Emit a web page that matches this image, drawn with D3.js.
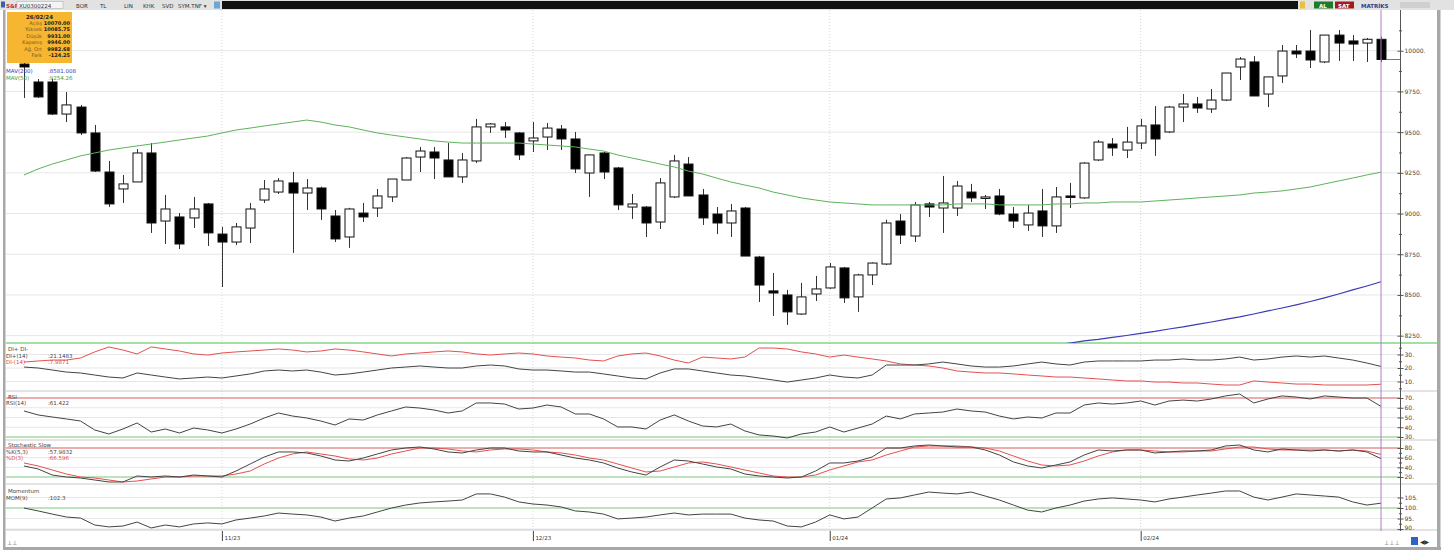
<!DOCTYPE html>
<html>
<head>
<meta charset="utf-8">
<script src="https://cdn.jsdelivr.net/npm/d3@7"></script>
<style>
  body { margin: 0; background: #fff; }
  svg { display: block; font-family: "DejaVu Sans", "Liberation Sans", sans-serif; }
</style>
</head>
<body>
<svg id="chart" width="1454" height="557"></svg>
<script>
// trading days shown on the chart
const dates = [
  "2023-10-12","2023-10-13","2023-10-16","2023-10-17","2023-10-18","2023-10-19","2023-10-20",
  "2023-10-23","2023-10-24","2023-10-25","2023-10-26","2023-10-27","2023-10-30","2023-10-31",
  "2023-11-01","2023-11-02","2023-11-03","2023-11-06","2023-11-07","2023-11-08","2023-11-09","2023-11-10",
  "2023-11-13","2023-11-14","2023-11-15","2023-11-16","2023-11-17","2023-11-20","2023-11-21","2023-11-22",
  "2023-11-23","2023-11-24","2023-11-27","2023-11-28","2023-11-29","2023-11-30",
  "2023-12-01","2023-12-04","2023-12-05","2023-12-06","2023-12-07","2023-12-08","2023-12-11","2023-12-12",
  "2023-12-13","2023-12-14","2023-12-15","2023-12-18","2023-12-19","2023-12-20","2023-12-21","2023-12-22",
  "2023-12-25","2023-12-26","2023-12-27","2023-12-28","2023-12-29",
  "2024-01-02","2024-01-03","2024-01-04","2024-01-05","2024-01-08","2024-01-09","2024-01-10","2024-01-11",
  "2024-01-12","2024-01-15","2024-01-16","2024-01-17","2024-01-18","2024-01-19","2024-01-22","2024-01-23",
  "2024-01-24","2024-01-25","2024-01-26","2024-01-29","2024-01-30","2024-01-31",
  "2024-02-01","2024-02-02","2024-02-05","2024-02-06","2024-02-07","2024-02-08","2024-02-09","2024-02-12",
  "2024-02-13","2024-02-14","2024-02-15","2024-02-16","2024-02-19","2024-02-20","2024-02-21","2024-02-22",
  "2024-02-23","2024-02-26"
];

const open = [9918,9808,9808,9611,9654,9495,9255,9151,9194,9372,8954,8979,8973,9059,
  8874,8825,8911,9083,9132,9188,9126,9157,8985,8856,9003,9034,9102,9206,9347,9378,9329,9225,9323,9532,9532,9495,
  9446,9470,9519,9458,9249,9372,9280,9040,9040,8948,9102,9304,9114,8997,8942,9034,8733,8525,8500,8383,8506,
  8543,8666,8488,8623,8690,8954,8862,9059,9034,9034,9132,9096,9108,8997,8930,9016,8924,9108,9096,9329,9427,9390,
  9433,9544,9501,9654,9673,9642,9697,9900,9931,9734,9845,9998,9998,9931,10096,10060,10047,10070];
const high = [9943,9826,9826,9746,9667,9544,9323,9237,9396,9433,9114,9003,9102,9065,
  8918,8942,9065,9206,9218,9255,9212,9165,9022,9035,9065,9151,9212,9347,9409,9409,9433,9372,9581,9556,9562,9500,
  9562,9556,9544,9501,9360,9378,9286,9120,9046,9218,9360,9347,9151,9040,9059,9040,8740,8635,8531,8574,8617,
  8696,8672,8630,8700,8962,8997,9071,9071,9231,9200,9182,9114,9151,9040,9053,9151,9163,9188,9315,9452,9464,9532,
  9581,9660,9660,9734,9716,9765,9863,9961,9967,9839,10035,10035,10127,10096,10127,10096,10078,10085.75];
const low = [9710,9710,9605,9562,9482,9255,9040,9065,9194,8881,8813,8782,8911,8801,
  8549,8807,8819,9065,9120,8758,9022,8961,8825,8789,8948,8979,9071,9206,9255,9212,9225,9188,9310,9495,9464,9329,
  9378,9390,9390,9249,9102,9212,9022,8967,8856,8905,9096,9108,8930,8874,8856,8739,8457,8371,8316,8378,8463,
  8538,8451,8396,8561,8684,8813,8825,8979,8881,8985,9071,9028,8990,8911,8893,8856,8881,9034,9090,9323,9354,9341,
  9396,9354,9495,9562,9618,9618,9691,9820,9722,9654,9802,9955,9894,9924,9937,9937,9931,9931];
const close = [9900,9716,9611,9667,9495,9261,9059,9182,9372,8942,9028,8813,9028,8881,
  8825,8918,9028,9151,9200,9126,9157,9028,8844,9028,8979,9108,9212,9341,9384,9341,9225,9329,9532,9550,9513,9360,
  9464,9525,9458,9274,9360,9255,9053,9059,8942,9188,9323,9108,8973,8942,9016,8739,8561,8512,8396,8488,8537,
  8672,8482,8623,8696,8942,8868,9053,9040,9065,9169,9096,9102,8997,8954,9003,8924,9102,9102,9310,9439,9403,9439,
  9538,9458,9654,9673,9648,9697,9863,9949,9722,9839,9998,9980,9943,10096,10047,10041,10070.25,9946];

const ma50 = [9237,9274,9304,9329,9354,9372,9390,9403,9415,9427,9439,9452,9464,9476,
  9495,9513,9525,9538,9550,9562,9574,9562,9544,9532,9513,9495,9482,9470,9458,9446,9439,9433,9433,9433,9433,9433,
  9427,9421,9415,9409,9396,9384,9360,9341,9323,9304,9286,9261,9243,9218,9194,9175,9157,9132,9114,9096,9083,
  9071,9065,9059,9053,9053,9053,9053,9053,9053,9059,9059,9059,9053,9053,9053,9053,9059,9059,9065,9065,9071,9071,
  9071,9077,9083,9089,9096,9102,9108,9114,9126,9132,9139,9151,9163,9182,9200,9218,9237,9254.26];
const ma200From = "2024-01-23";
const ma200 = [8181,8193,8205,8218,8227,8239,8251,8264,8276,8291,8304,8319,8334,8350,8365,8383,8402,8420,
  8439,8460,8482,8506,8531,8555,8581.008];

const diPlus = [20.7,20.0,18.5,17.0,16.3,14.8,13.3,12.6,16.3,14.8,13.3,11.9,12.6,13.3,
  12.6,14.1,15.6,17.8,18.5,17.8,18.5,17.0,14.8,15.6,17.0,18.5,20.0,20.7,21.5,20.7,20.0,20.0,21.5,22.2,21.5,19.3,
  18.5,18.5,17.8,17.0,17.0,15.6,14.1,12.6,11.9,16.3,19.3,19.3,17.8,16.3,14.8,14.1,12.6,11.1,9.6,11.1,12.6,
  14.8,13.3,12.6,14.8,22.2,22.2,22.2,23.0,24.4,23.0,21.5,20.7,20.7,21.5,23.0,24.4,23.0,22.2,24.4,25.2,25.2,25.2,
  25.2,25.9,25.9,26.7,25.9,25.9,26.7,28.1,25.9,26.7,28.1,28.9,28.1,28.9,27.4,25.9,23.7,21.1483];
const diMinus = [24.4,25.2,25.9,25.9,27.4,31.9,35.6,33.3,30.4,35.6,34.1,32.6,30.4,29.6,
  31.1,31.9,32.6,33.3,34.1,33.3,31.9,32.6,34.1,33.3,31.9,30.4,28.9,30.4,31.1,31.9,32.6,31.9,30.4,29.6,30.4,31.1,
  30.4,28.9,28.1,27.4,25.9,25.2,28.9,30.4,31.1,28.9,25.9,23.7,28.1,27.4,26.7,28.1,34.8,34.8,34.1,31.9,30.4,
  28.1,29.6,28.1,26.7,25.2,23.0,22.2,21.5,20.0,17.8,17.0,16.3,16.3,15.6,14.8,14.1,13.3,13.3,12.6,11.9,11.1,10.4,
  10.4,9.6,9.6,8.9,8.9,8.1,7.4,7.4,10.4,9.6,8.9,8.1,8.1,7.4,7.4,7.4,7.4,7.9871];

const rsi = [56.7,52.6,50.5,48.5,46.4,37.2,33.1,38.2,44.4,35.1,38.2,34.1,39.2,37.2,
  34.1,38.2,43.3,49.5,54.6,51.5,49.5,46.4,42.3,48.5,47.4,52.6,56.7,60.8,59.7,57.7,54.6,56.7,64.9,64.9,63.8,58.7,
  59.7,62.8,60.8,53.6,53.6,48.5,40.3,40.3,38.2,47.4,52.6,46.4,41.3,40.3,43.3,36.2,32.1,31.0,29.0,33.1,35.1,
  40.3,35.1,39.2,43.3,51.5,48.5,53.6,54.6,55.6,58.7,56.7,55.6,51.5,48.5,50.5,49.5,54.6,54.6,62.8,64.9,63.8,64.9,
  66.9,62.8,66.9,67.9,66.9,69.0,72.1,74.1,64.9,69.0,72.1,71.0,69.0,72.1,71.0,70.0,70.0,61.422];

const stochK = [42.8,36.6,24.1,20.0,17.9,13.8,9.7,9.7,22.1,20.0,22.1,20.0,24.1,22.1,
  20.0,32.4,46.9,61.4,71.8,71.8,69.7,63.5,55.2,53.1,59.3,67.6,75.9,80.0,82.1,78.0,71.8,69.7,75.9,80.0,80.0,73.8,
  71.8,71.8,65.5,59.3,55.2,49.0,38.6,30.4,24.1,40.7,55.2,53.1,46.9,40.7,36.6,26.2,22.1,20.0,17.9,20.0,32.4,
  49.0,49.0,53.1,61.4,80.0,80.0,84.2,86.2,84.2,82.1,82.1,75.9,65.5,51.1,42.8,38.6,44.8,51.1,65.5,75.9,73.8,75.9,
  75.9,69.7,71.8,73.8,73.8,75.9,84.2,86.2,75.9,71.8,78.0,75.9,73.8,75.9,73.8,75.9,71.8,57.9832];
const stochD = [49.0,42.8,34.5,26.2,20.0,17.9,13.8,9.7,11.7,15.9,20.0,20.0,22.1,22.1,
  22.1,26.2,32.4,46.9,59.3,67.6,71.8,67.6,63.5,57.3,55.2,59.3,67.6,73.8,80.0,80.0,78.0,73.8,71.8,75.9,78.0,78.0,
  75.9,71.8,69.7,65.5,59.3,55.2,46.9,38.6,30.4,32.4,40.7,49.0,51.1,46.9,40.7,34.5,28.3,22.1,20.0,20.0,24.1,
  34.5,42.8,51.1,55.2,65.5,73.8,82.1,84.2,84.2,84.2,82.1,80.0,73.8,63.5,53.1,44.8,42.8,44.8,53.1,63.5,71.8,75.9,
  75.9,73.8,71.8,71.8,73.8,73.8,78.0,82.1,82.1,78.0,75.9,75.9,75.9,75.9,73.8,75.9,73.8,66.596];

const momentum = [100.0,98.6,97.1,95.7,95.2,91.9,91.0,91.4,93.3,90.5,91.9,91.0,92.4,92.9,
  92.4,94.3,95.2,96.2,97.6,97.1,96.7,95.7,93.8,95.2,96.2,98.1,100.0,101.4,102.4,102.9,103.3,103.8,106.7,106.7,105.2,102.9,
  101.9,101.4,100.5,98.6,98.1,97.1,94.8,95.2,95.7,96.7,97.6,96.7,97.1,97.1,97.1,95.2,94.3,93.8,91.4,91.0,93.3,
  96.7,94.8,95.7,100.0,104.3,104.8,106.2,107.6,107.1,106.7,107.6,105.7,103.8,101.4,99.0,98.1,100.0,101.4,103.3,104.3,104.8,104.3,
  103.8,102.9,104.3,105.2,106.2,107.1,108.1,108.1,105.2,103.8,105.2,106.7,106.2,105.7,105.2,102.9,101.4,102.3];

const monthTicks = ["2023-11-01","2023-12-01","2024-01-02","2024-02-01"];
const monthLabels = ["11/23","12/23","01/24","02/24"];
const priceTicks = [8250,8500,8750,9000,9250,9500,9750,10000];
const priceMinor = [8375,8625,8875,9125,9375,9625,9875,10125];
const diTicks = [10,20,30], diMinor = [5,15,25,35];
const rsiTicks = [30,40,50,60,70];
const stoTicks = [20,40,60,80], stoMinor = [30,50,70];
const momTicks = [90,95,100,105], momMinor = [92.5,97.5,102.5];

const infoDate = "26/02/24";
const infoLabels = ["Açılış","Yüksek","Düşük","Kapanış","Ağ. Ort","Fark"];
const infoValues = ["10070.00","10085.75","9931.00","9946.00","9982.68","-124.25"];

const svg = d3.select("#chart");
const axisX = 1400, plotL = 6, frameR = 1437;

const x = d3.scalePoint().domain(dates).range([24, 1381]);
const yPrice = d3.scaleLinear().domain([8205, 10250]).range([343, 10]);
const yDI = d3.scaleLinear().domain([0, 40]).range([395, 341]);
const yRSI = d3.scaleLinear().domain([30, 70]).range([437, 398]);
const ySto = d3.scaleLinear().domain([20, 80]).range([477, 448]);
const yMom = d3.scaleLinear().domain([95, 105]).range([518.5, 497.5]);

const panels = [
  {id: "p0", top: 10, bottom: 343, y: yPrice, ticks: priceTicks, minor: priceMinor},
  {id: "p1", top: 344, bottom: 391, y: yDI, ticks: diTicks, minor: diMinor},
  {id: "p2", top: 392, bottom: 440, y: yRSI, ticks: rsiTicks, minor: []},
  {id: "p3", top: 441, bottom: 484, y: ySto, ticks: stoTicks, minor: stoMinor},
  {id: "p4", top: 485, bottom: 530, y: yMom, ticks: momTicks, minor: momMinor}
];

// toolbar
svg.append("rect").attr("x", 0).attr("y", 0).attr("width", 1454).attr("height", 10).attr("fill", "#e2e2e2");
svg.append("rect").attr("x", 222).attr("y", 1).attr("width", 1076).attr("height", 8).attr("fill", "#121212");
const tb = svg.append("g").attr("font-size", 5.5).attr("fill", "#333");
tb.append("rect").attr("x", 1).attr("y", 1.5).attr("width", 4).attr("height", 6).attr("fill", "#3c5fa8");
tb.append("text").attr("x", 6).attr("y", 7.5).attr("fill", "#c0303a").attr("font-weight", "bold").text("S&P");
tb.append("rect").attr("x", 17).attr("y", 1.5).attr("width", 46).attr("height", 7).attr("fill", "#f4f4f4").attr("stroke", "#aaa").attr("stroke-width", 0.5);
tb.append("text").attr("x", 19).attr("y", 7.5).text("XU0300224");
[["BOR", 76], ["TL", 100], ["LIN", 124], ["KHK", 143], ["SVD", 162], ["SYM.TNF ▾", 178]].forEach(([t, px]) => {
  tb.append("text").attr("x", px).attr("y", 7.5).text(t);
});
tb.append("rect").attr("x", 214).attr("y", 1.5).attr("width", 6).attr("height", 7).attr("fill", "#6aa7d8");
tb.append("rect").attr("x", 1300).attr("y", 1.5).attr("width", 5).attr("height", 7).attr("fill", "#e8c040");
tb.append("rect").attr("x", 1314).attr("y", 1.5).attr("width", 19).attr("height", 7).attr("fill", "#1f7a2a");
tb.append("text").attr("x", 1319).attr("y", 7.5).attr("fill", "#fff").attr("font-weight", "bold").text("AL");
tb.append("rect").attr("x", 1335).attr("y", 1.5).attr("width", 19).attr("height", 7).attr("fill", "#a11c1c");
tb.append("text").attr("x", 1338).attr("y", 7.5).attr("fill", "#fff").attr("font-weight", "bold").text("SAT");
tb.append("text").attr("x", 1361).attr("y", 7.5).attr("fill", "#2b3f8c").attr("font-weight", "bold").text("MATRİKS");
tb.append("rect").attr("x", 1400).attr("y", 2).attr("width", 30).attr("height", 6).attr("fill", "#cfcfcf");

// frame
svg.append("rect").attr("x", 3).attr("y", 10).attr("width", 2.5).attr("height", 540).attr("fill", "#a8a8a8");
svg.append("rect").attr("x", frameR).attr("y", 10).attr("width", 3.5).attr("height", 540).attr("fill", "#a8a8a8");
svg.append("rect").attr("x", 3).attr("y", 547).attr("width", 1438).attr("height", 3).attr("fill", "#a8a8a8");

// clip paths
const defs = svg.append("defs");
panels.forEach(p => {
  defs.append("clipPath").attr("id", "clip-" + p.id)
    .append("rect").attr("x", plotL).attr("y", p.top).attr("width", axisX - plotL).attr("height", p.bottom - p.top);
});

// horizontal gridlines
panels.forEach(p => {
  svg.append("g").attr("clip-path", `url(#clip-${p.id})`)
    .selectAll("line").data(p.ticks).join("line")
    .attr("x1", plotL).attr("x2", axisX)
    .attr("y1", d => p.y(d)).attr("y2", d => p.y(d))
    .attr("stroke", "#e6e6e6").attr("stroke-width", 1);
});

// month gridlines
svg.append("g").selectAll("line").data(monthTicks).join("line")
  .attr("x1", d => x(d)).attr("x2", d => x(d)).attr("y1", 10).attr("y2", 530)
  .attr("stroke", "#d6d6d6").attr("stroke-dasharray", "1,2");

// panel separators
[391, 440, 484, 530].forEach(yy => {
  svg.append("line").attr("x1", plotL).attr("x2", frameR).attr("y1", yy).attr("y2", yy)
    .attr("stroke", "#c8c8c8");
});
svg.append("line").attr("x1", plotL).attr("x2", frameR).attr("y1", 343).attr("y2", 343)
  .attr("stroke", "#86d486").attr("stroke-width", 1.3);

// reference lines
const refs = [[yRSI, 70, "#e46a6a"], [yRSI, 30, "#86d486"], [ySto, 80, "#e46a6a"], [ySto, 20, "#86d486"], [yMom, 100, "#86d486"]];
refs.forEach(([s, v, c]) => {
  svg.append("line").attr("x1", plotL).attr("x2", axisX).attr("y1", s(v)).attr("y2", s(v))
    .attr("stroke", c).attr("stroke-width", 1.2);
});

// candles
const candles = dates.map((d, i) => ({date: d, o: open[i], h: high[i], l: low[i], c: close[i]}));
const cg = svg.append("g").attr("clip-path", "url(#clip-p0)");
cg.selectAll("line.wick").data(candles).join("line").attr("class", "wick")
  .attr("x1", d => Math.round(x(d.date)) + 0.5).attr("x2", d => Math.round(x(d.date)) + 0.5)
  .attr("y1", d => yPrice(d.h)).attr("y2", d => yPrice(d.l))
  .attr("stroke", "#333").attr("stroke-width", 1);
cg.selectAll("rect.body").data(candles).join("rect").attr("class", "body")
  .attr("x", d => Math.round(x(d.date)) - 4)
  .attr("y", d => yPrice(Math.max(d.o, d.c)))
  .attr("width", 9)
  .attr("height", d => Math.max(1.5, Math.abs(yPrice(d.o) - yPrice(d.c))))
  .attr("fill", d => d.c >= d.o ? "#fff" : "#000")
  .attr("stroke", "#111").attr("stroke-width", 1);

// moving averages
const line = (ys) => d3.line().x(d => x(d.date)).y(d => ys(d.v)).curve(d3.curveLinear);
const ma50Data = dates.map((d, i) => ({date: d, v: ma50[i]}));
const start200 = dates.indexOf(ma200From);
const ma200Data = ma200.map((v, i) => ({date: dates[start200 + i], v}));
cg.append("path").datum(ma50Data).attr("d", line(yPrice)).attr("fill", "none").attr("stroke", "#5cb35c").attr("stroke-width", 1);
cg.append("path").datum(ma200Data).attr("d", line(yPrice)).attr("fill", "none").attr("stroke", "#3a3ab4").attr("stroke-width", 1.2);

// close marker
svg.append("line").attr("x1", x(dates[dates.length - 1]) + 5).attr("x2", axisX)
  .attr("y1", yPrice(close[close.length - 1])).attr("y2", yPrice(close[close.length - 1]))
  .attr("stroke", "#777");

// indicator lines
const series = [
  ["p1", yDI, diMinus, "#e45050"], ["p1", yDI, diPlus, "#444"],
  ["p2", yRSI, rsi, "#444"],
  ["p3", ySto, stochD, "#e45050"], ["p3", ySto, stochK, "#444"],
  ["p4", yMom, momentum, "#444"]
];
series.forEach(([pid, s, vals, col]) => {
  svg.append("path").attr("clip-path", `url(#clip-${pid})`)
    .datum(dates.map((d, i) => ({date: d, v: vals[i]})))
    .attr("d", line(s)).attr("fill", "none").attr("stroke", col).attr("stroke-width", 1);
});

// cursor line
svg.append("line").attr("x1", x(dates[dates.length - 1])).attr("x2", x(dates[dates.length - 1]))
  .attr("y1", 10).attr("y2", 531).attr("stroke", "#b07cc8").attr("stroke-width", 1);

// right axes
svg.append("line").attr("x1", axisX + 0.5).attr("x2", axisX + 0.5).attr("y1", 10).attr("y2", 531).attr("stroke", "#555");
panels.forEach(p => {
  const ax = svg.append("g").attr("transform", `translate(${axisX + 0.5},0)`)
    .call(d3.axisRight(p.y).tickValues(p.ticks).tickSize(3).tickPadding(1).tickFormat(d => d + "."));
  ax.select(".domain").remove();
  ax.selectAll(".tick line").attr("x1", -3).attr("stroke", "#555");
  ax.selectAll(".tick text").attr("font-size", 6).attr("fill", "#444")
    .attr("font-family", "DejaVu Sans, sans-serif");
  ax.selectAll(".tick").filter(d => p.y(d) > p.bottom - 2).select("text").attr("dy", "0.1em");
  const mn = svg.append("g").attr("transform", `translate(${axisX + 0.5},0)`)
    .call(d3.axisRight(p.y).tickValues(p.minor).tickSize(1.5).tickFormat(""));
  mn.select(".domain").remove();
  mn.selectAll(".tick line").attr("x1", -1.5).attr("stroke", "#555");
});

// x axis
const xa = svg.append("g");
xa.selectAll("line").data(monthTicks).join("line")
  .attr("x1", d => x(d) + 0.5).attr("x2", d => x(d) + 0.5).attr("y1", 531).attr("y2", 541).attr("stroke", "#444");
xa.selectAll("text").data(monthTicks).join("text")
  .attr("x", d => x(d) + 2.5).attr("y", 540).attr("font-size", 5.5).attr("fill", "#333")
  .text((d, i) => monthLabels[i]);
svg.append("text").attr("x", 7).attr("y", 545).attr("font-size", 6).attr("fill", "#555").text("⊥⊥");
svg.append("text").attr("x", 1384).attr("y", 545).attr("font-size", 6).attr("fill", "#555").text("⊥⊥⊥");
svg.append("rect").attr("x", 1411).attr("y", 537).attr("width", 7).attr("height", 8).attr("fill", "#2c66c2");
svg.append("text").attr("x", 1420).attr("y", 544).attr("font-size", 6).attr("fill", "#333").text("◀▶");

// info box
const ib = svg.append("g");
ib.append("rect").attr("x", 7).attr("y", 12).attr("width", 65).attr("height", 51).attr("fill", "#f6b632");
ib.append("text").attr("x", 39.5).attr("y", 18.5).attr("text-anchor", "middle").attr("font-size", 5.5)
  .attr("font-weight", "bold").attr("fill", "#222").text(infoDate);
infoLabels.forEach((t, i) => {
  ib.append("text").attr("x", 42).attr("y", 25 + i * 6.4).attr("text-anchor", "end")
    .attr("font-size", 5).attr("fill", "#7a5a22").text(t);
  ib.append("text").attr("x", 70).attr("y", 25 + i * 6.4).attr("text-anchor", "end")
    .attr("font-size", 5).attr("font-weight", "bold").attr("fill", "#1a1a1a").text(infoValues[i]);
});

// legends
const lg = svg.append("g").attr("font-size", 5.5);
const legend = (yy, name, val, col) => {
  lg.append("text").attr("x", 6).attr("y", yy).attr("fill", col).text(name);
  lg.append("text").attr("x", 48).attr("y", yy).attr("fill", col).text(val);
};
legend(73, "MAV(200)", ":8581.008", "#3a3ab4");
legend(79.5, "MAV(50)", ":9254.26", "#3f9a3f");
lg.append("text").attr("x", 8).attr("y", 351).attr("fill", "#444").text("DI+ DI-");
legend(357.5, "DI+(14)", ":21.1483", "#444");
legend(364, "DI-(14)", ":7.9871", "#e04848");
lg.append("text").attr("x", 8).attr("y", 398.5).attr("fill", "#444").text("RSI");
legend(405, "RSI(14)", ":61.422", "#444");
lg.append("text").attr("x", 8).attr("y", 447).attr("fill", "#444").text("Stochastic Slow");
legend(453.5, "%K(5,3)", ":57.9832", "#444");
legend(460, "%D(3)", ":66.596", "#e04848");
lg.append("text").attr("x", 8).attr("y", 493).attr("fill", "#444").text("Momentum");
legend(499.5, "MOM(9)", ":102.3", "#444");
</script>
</body>
</html>
